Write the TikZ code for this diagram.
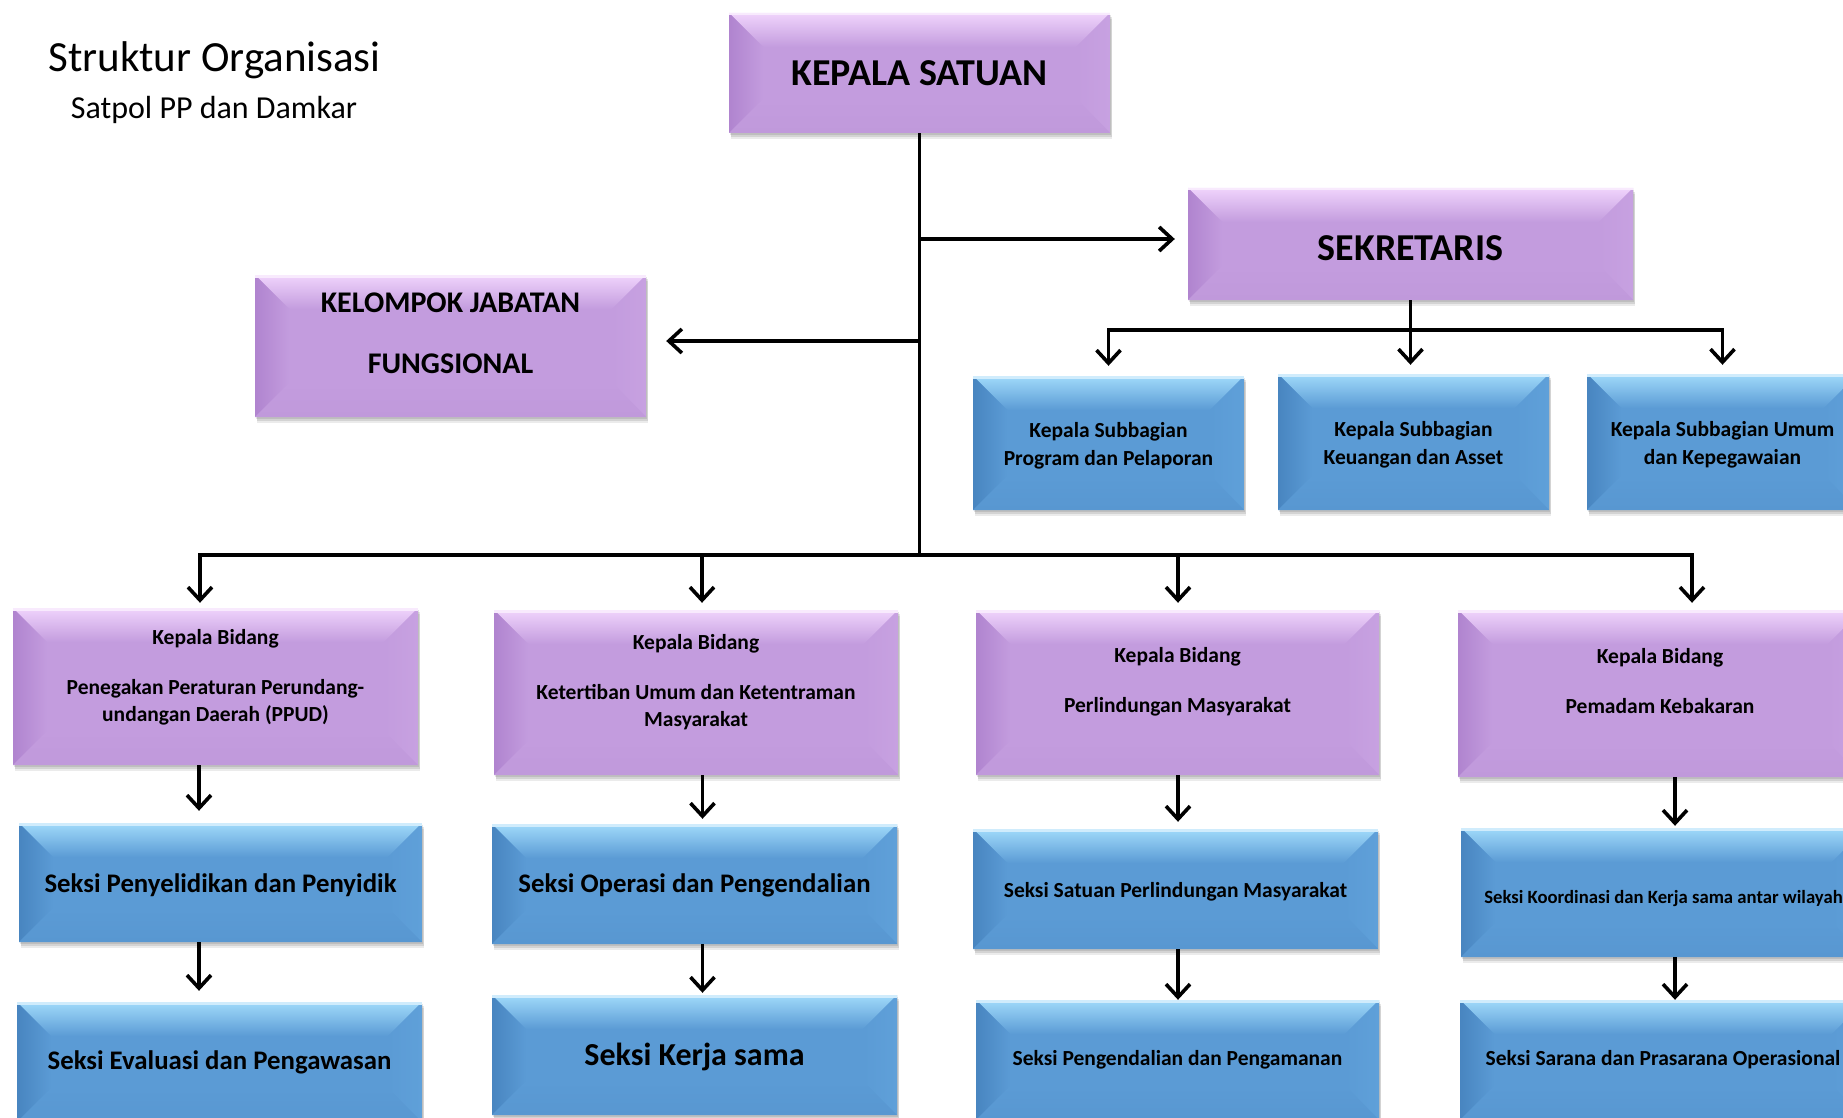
\documentclass[tikz,border=0pt]{standalone}
\usepackage{fontspec}
\setmainfont{Carlito}
\usetikzlibrary{arrows.meta}
\definecolor{pbase}{RGB}{195,156,222}
\definecolor{ptop}{RGB}{240,212,252}
\definecolor{pleft}{RGB}{176,132,207}
\definecolor{pright}{RGB}{199,161,225}
\definecolor{pbot}{RGB}{192,153,219}
\definecolor{bbase}{RGB}{91,155,213}
\definecolor{btop}{RGB}{160,218,250}
\definecolor{bleft}{RGB}{72,133,192}
\definecolor{bright}{RGB}{95,160,217}
\definecolor{bbot}{RGB}{88,151,209}
\def\bvw{34pt}
\newcommand\bevelfill[5]{%
  \path (path picture bounding box.north west) coordinate (bNW)
        (path picture bounding box.north east) coordinate (bNE)
        (path picture bounding box.south west) coordinate (bSW)
        (path picture bounding box.south east) coordinate (bSE);
  \fill[#5] (bNW) rectangle (bSE);
  \shade[top color=#1, bottom color=#5] (bNW) -- (bNE) -- ([shift={(-\bvw,-\bvw)}]bNE) -- ([shift={(\bvw,-\bvw)}]bNW) -- cycle;
  \shade[left color=#2, right color=#5] (bNW) -- ([shift={(\bvw,-\bvw)}]bNW) -- ([shift={(\bvw,\bvw)}]bSW) -- (bSW) -- cycle;
  \shade[left color=#5, right color=#3] (bNE) -- ([shift={(-\bvw,-\bvw)}]bNE) -- ([shift={(-\bvw,\bvw)}]bSE) -- (bSE) -- cycle;
  \shade[top color=#5, bottom color=#4] (bSW) -- ([shift={(\bvw,\bvw)}]bSW) -- ([shift={(-\bvw,\bvw)}]bSE) -- (bSE) -- cycle;
  \fill[#1!50!white] (bNW) rectangle ([yshift=-2.5pt]bNE);
}
\newcommand\lowstrut[1]{\rule[-#1]{0pt}{#1}}
\newcommand\highstrut[1]{\rule{0pt}{#1}}
\tikzset{
  orgbox/.style={rectangle, inner sep=0pt, align=center,
     preaction={fill=black, opacity=0.10, transform canvas={shift={(1pt,-2pt)}}},
     preaction={fill=black, opacity=0.10, transform canvas={shift={(1.5pt,-4pt)}}},
     preaction={fill=black, opacity=0.08, transform canvas={shift={(2pt,-6pt)}}}},
  purplebox/.style={orgbox, path picture={\bevelfill{ptop}{pleft}{pright}{pbot}{pbase}}},
  bluebox/.style={orgbox, path picture={\bevelfill{btop}{bleft}{bright}{bbot}{bbase}}},
  fs/.style 2 args={font=\bfseries\fontsize{#1}{#2}\selectfont},
  vc/.style={text height=#1, text depth=0pt},
  conn/.style={line width=3.6pt, black},
  arr/.style={conn, -{Straight Barb[length=13pt,width=24pt]}},
}
\begin{document}
\begin{tikzpicture}[x=1pt,y=-1pt]
\useasboundingbox (0,0) rectangle (1843,1118);
% titles
\node[anchor=base, font=\fontsize{43}{50}\selectfont] (title) at (214.5,72) {Struktur Organisasi};
\node[anchor=base, font=\fontsize{32}{38}\selectfont] (subtitle) at (214,119) {Satpol PP dan Damkar};
% top level
\node[purplebox, fs={38}{45}, vc=24.5pt, minimum width=381pt, minimum height=120pt] (ks) at (919.5,73) {KEPALA SATUAN};
\node[purplebox, fs={38}{45}, vc=32.5pt, minimum width=445pt, minimum height=112pt] (sek) at (1410.5,244) {SEKRETARIS};
\node[purplebox, fs={30}{34}, minimum width=391pt, minimum height=142pt] (kjf) at (450.5,346) {KELOMPOK JABATAN\\[27pt]FUNGSIONAL\lowstrut{25pt}};
% subbagian
\node[bluebox, fs={21.5}{28}, minimum width=271pt, minimum height=134pt] (sub1) at (1108.5,443) {\highstrut{20pt}Kepala Subbagian\\Program dan Pelaporan};
\node[bluebox, fs={21.5}{28}, minimum width=271pt, minimum height=136pt] (sub2) at (1413.5,442) {\highstrut{20pt}Kepala Subbagian\\Keuangan dan Asset};
\node[bluebox, fs={21.5}{28}, minimum width=271pt, minimum height=136pt] (sub3) at (1722.5,442) {\highstrut{20pt}Kepala Subbagian Umum\\dan Kepegawaian};
% bidang
\node[purplebox, fs={21.5}{27}, minimum width=405pt, minimum height=157pt] (b1) at (215.5,686.5) {Kepala Bidang\\[23pt]Penegakan Peraturan Perundang-\\undangan Daerah (PPUD)\lowstrut{23pt}};
\node[purplebox, fs={21.5}{27}, minimum width=404pt, minimum height=165pt] (b2) at (696,692.5) {Kepala Bidang\\[23pt]Ketertiban Umum dan Ketentraman\\Masyarakat\lowstrut{25pt}};
\node[purplebox, fs={21.5}{27}, minimum width=403pt, minimum height=165pt] (b3) at (1177.5,692.5) {Kepala Bidang\\[23pt]Perlindungan Masyarakat\lowstrut{26pt}};
\node[purplebox, fs={21.5}{27}, minimum width=404pt, minimum height=167pt] (b4) at (1660,693.5) {Kepala Bidang\\[23pt]Pemadam Kebakaran\lowstrut{25pt}};
% seksi row 1
\node[bluebox, fs={26.8}{32}, vc=20.2pt, minimum width=403pt, minimum height=119pt] (s1a) at (220.5,882.5) {Seksi Penyelidikan dan Penyidik};
\node[bluebox, fs={26.8}{32}, vc=17.2pt, minimum width=405pt, minimum height=120pt] (s2a) at (694.5,884) {Seksi Operasi dan Pengendalian};
\node[bluebox, fs={21.5}{26}, vc=17.8pt, minimum width=405pt, minimum height=120pt] (s3a) at (1175.5,889) {Seksi Satuan Perlindungan Masyarakat};
\node[bluebox, fs={18.7}{22}, vc=21pt, minimum width=405pt, minimum height=129pt] (s4a) at (1663.5,892.5) {Seksi Koordinasi dan Kerja sama antar wilayah};
% seksi row 2
\node[bluebox, fs={26.8}{32}, vc=15.2pt, minimum width=405pt, minimum height=120pt] (s1b) at (219.5,1062) {Seksi Evaluasi dan Pengawasan};
\node[bluebox, fs={32}{38}, vc=20.5pt, minimum width=405pt, minimum height=120pt] (s2b) at (694.5,1055) {Seksi Kerja sama};
\node[bluebox, fs={21.5}{26}, vc=11.8pt, minimum width=403pt, minimum height=120pt] (s3b) at (1177.5,1060) {Seksi Pengendalian dan Pengamanan};
\node[bluebox, fs={21.5}{26}, vc=11.8pt, minimum width=406pt, minimum height=120pt] (s4b) at (1663,1060) {Seksi Sarana dan Prasarana Operasional};
% connector helper coordinates
\coordinate (jS) at (919.5,239);
\coordinate (jK) at (919.5,341);
\coordinate (tB) at (919.5,555);
\coordinate (hL) at (200,555);
\coordinate (h2) at (702,555);
\coordinate (h3) at (1178,555);
\coordinate (hR) at (1692,555);
\coordinate (sbY) at (0,330);
\coordinate (c1) at (199,0);
\coordinate (c2) at (702.5,0);
\coordinate (c3) at (1178,0);
\coordinate (c4) at (1675,0);
% trunk
\draw[conn] (ks.south) -- (tB);
\draw[arr, shorten >=13pt] (jS) -- (jS -| sek.west);
\draw[arr, shorten >=20pt] (jK) -- (jK -| kjf.east);
\draw[conn, line cap=rect] (hL) -- (hR);
\draw[arr, shorten >=5pt] (hL) -- (hL |- b1.north);
\draw[arr, shorten >=7pt] (h2) -- (h2 |- b2.north);
\draw[arr, shorten >=7pt] (h3) -- (h3 |- b3.north);
\draw[arr, shorten >=7pt] (hR) -- (hR |- b4.north);
% sekretaris
\draw[arr, shorten >=9pt] (sek.south) -- (sek.south |- sub2.north);
\draw[conn, line cap=rect] (sub1.north |- sbY) -- (sub3.north |- sbY);
\draw[arr, shorten >=10pt] (sub1.north |- sbY) -- (sub1.north);
\draw[arr, shorten >=9pt] (sub3.north |- sbY) -- (sub3.north);
% columns
\draw[arr, shorten >=12pt] (b1.south -| c1) -- (s1a.north -| c1);
\draw[arr, shorten >=5pt] (b2.south -| c2) -- (s2a.north -| c2);
\draw[arr, shorten >=7pt] (b3.south -| c3) -- (s3a.north -| c3);
\draw[arr, shorten >=2pt] (b4.south -| c4) -- (s4a.north -| c4);
\draw[arr, shorten >=11pt] (s1a.south -| c1) -- (s1b.north -| c1);
\draw[arr, shorten >=2pt] (s2a.south -| c2) -- (s2b.north -| c2);
\draw[arr] (s3a.south -| c3) -- (s3b.north -| c3);
\draw[arr] (s4a.south -| c4) -- (s4b.north -| c4);
\end{tikzpicture}
\end{document}
